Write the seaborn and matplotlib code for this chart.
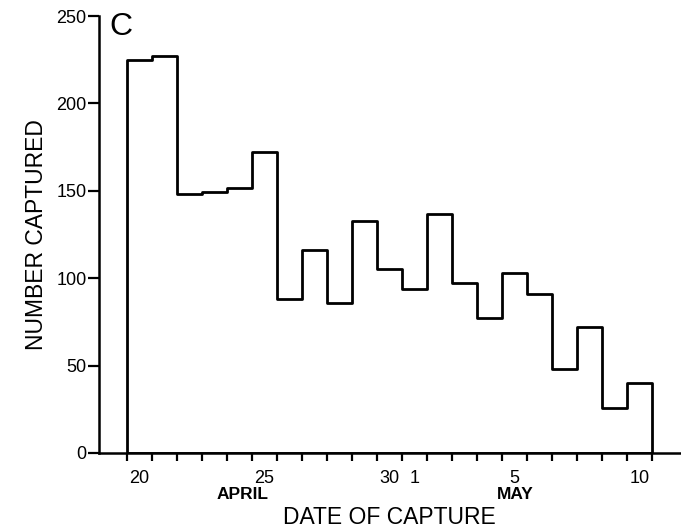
import numpy as np
import pandas as pd
import matplotlib
matplotlib.use("Agg")
import matplotlib.pyplot as plt
import matplotlib.transforms as mtransforms
import seaborn as sns

# ---- data ----
dates = ["20", "21", "22", "23", "24", "25", "26", "27", "28", "29", "30",
         "1", "2", "3", "4", "5", "6", "7", "8", "9", "10"]
months = ["APRIL"] * 11 + ["MAY"] * 10
counts = [225, 227, 148, 149.5, 151.5, 172, 88, 116, 86, 133, 105,
          94, 137, 97, 77, 103, 91, 48, 72, 26, 40]
labelled = [("20", "APRIL"), ("25", "APRIL"), ("30", "APRIL"),
            ("1", "MAY"), ("5", "MAY"), ("10", "MAY")]
y_ticks = [0, 50, 100, 150, 200, 250]

df = pd.DataFrame({"date": dates, "month": months, "count": counts})
df["day_index"] = np.arange(len(df)) + 0.5
n = len(df)

sns.set_style("ticks")
plt.rcParams["font.family"] = ["Liberation Sans", "DejaVu Sans"]
for key in ("text.color", "axes.labelcolor", "xtick.color", "ytick.color",
            "axes.edgecolor"):
    plt.rcParams[key] = "black"

fig = plt.figure(figsize=(6.81, 5.32), dpi=100)
ax = fig.add_axes([0.1454, 0.1485, 0.853, 0.8214])

sns.histplot(data=df, x="day_index", weights="count",
             binwidth=1, binrange=(0, n), element="step", fill=True,
             color="white", alpha=1.0, edgecolor="black", linewidth=2.0, ax=ax)

ax.set_xlim(-1.12, n + 1.12)
ax.set_ylim(0, 250)

# major ticks at day boundaries, labels at day centres (minor)
ax.set_xticks(np.arange(0, n + 1))
ax.set_xticklabels([])
lab_pos = [df.index[(df["date"] == d) & (df["month"] == m)][0] + 0.5
           for d, m in labelled]
ax.set_xticks(lab_pos, minor=True)
ax.set_xticklabels([d for d, m in labelled], minor=True, fontsize=13)
ax.tick_params(axis="x", which="major", direction="out", length=5.5, width=1.6)
ax.tick_params(axis="x", which="minor", length=0, pad=12)

ax.set_yticks(y_ticks)
ax.set_yticklabels([str(v) for v in y_ticks], fontsize=13)
ax.tick_params(axis="y", direction="out", length=8, width=1.6, pad=1)

sns.despine(ax=ax)
for s in ("left", "bottom"):
    ax.spines[s].set_linewidth(1.8)
    ax.spines[s].set_color("black")

ax.set_xlabel("DATE OF CAPTURE", fontsize=16.5, labelpad=14)
ax.set_ylabel("NUMBER CAPTURED", fontsize=16.5, labelpad=6)

trans = mtransforms.blended_transform_factory(ax.transData, ax.transAxes)
ax.text(4.64, -0.095, "APRIL", transform=trans, ha="center", va="center",
        fontsize=12.5, fontweight="bold")
ax.text(15.52, -0.095, "MAY", transform=trans, ha="center", va="center",
        fontsize=12.5, fontweight="bold")

ax.text(0.038, 0.975, "C", transform=ax.transAxes, ha="center", va="center",
        fontsize=23)

fig.savefig("out.png", dpi=100)
